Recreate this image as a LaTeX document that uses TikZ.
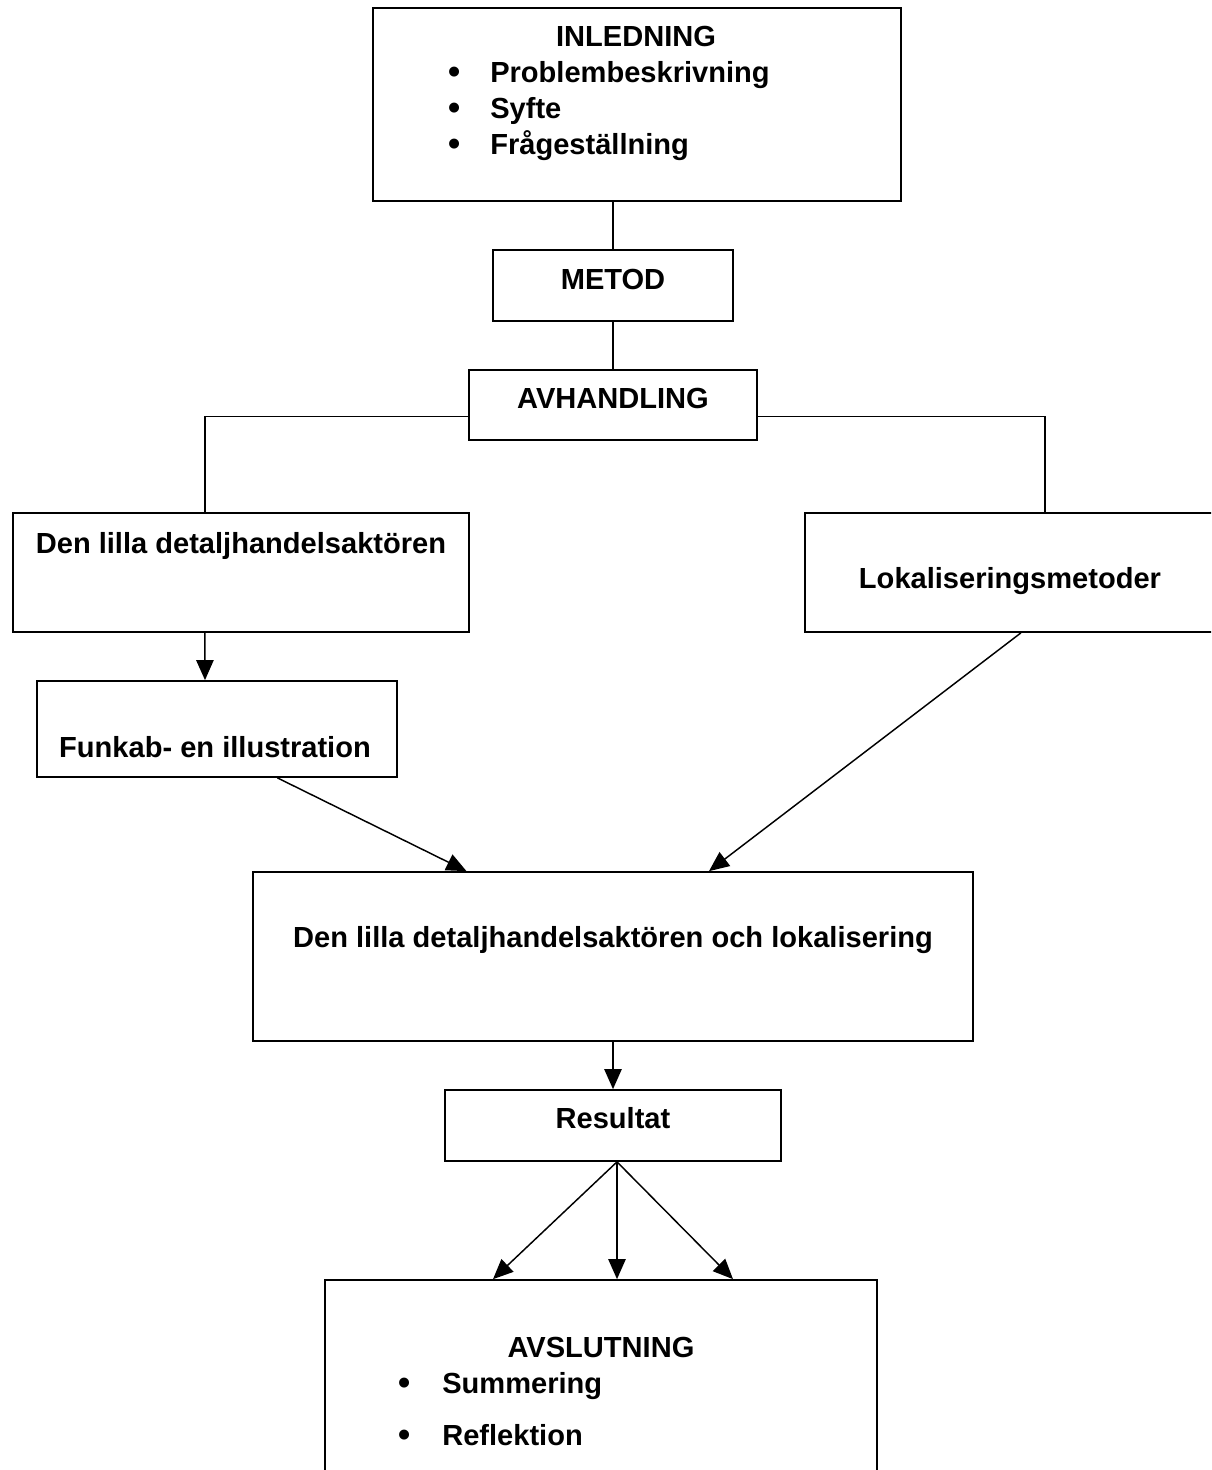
\documentclass[tikz,border=0pt]{standalone}
\usepackage{fontspec}
\setmainfont{Liberation Sans}
\usetikzlibrary{arrows.meta,calc}
\begin{document}
\begin{tikzpicture}[x=0.75pt,y=-0.75pt,
  box/.style={draw,line width=1.3pt,rectangle,inner sep=0pt},
  lbl/.style={font=\fontsize{21.8}{26}\selectfont\bfseries,inner sep=0pt,anchor=base},
  lbll/.style={lbl,anchor=base west},
  bul/.style={lbl,font=\fontsize{26}{26}\selectfont\bfseries},
  conn/.style={line width=1.1pt},
  arr/.style={conn,-{Triangle[length=15pt,width=13pt]}}]
\useasboundingbox (0,0) rectangle (1211,1470);
\clip (0,0) rectangle (1211,1470);
% boxes
\node[box,minimum width=528*0.75pt,minimum height=193*0.75pt] (inl) at (637,104.5) {};
\node[box,minimum width=240*0.75pt,minimum height=71*0.75pt] (met) at (613,285.5) {};
\node[box,minimum width=288*0.75pt,minimum height=70*0.75pt] (avh) at (613,405) {};
\node[box,minimum width=456*0.75pt,minimum height=119*0.75pt] (den) at (241,572.5) {};
\node[box,minimum width=420*0.75pt,minimum height=119*0.75pt] (lok) at (1015,572.5) {};
\node[box,minimum width=360*0.75pt,minimum height=96*0.75pt] (fun) at (217,729) {};
\node[box,minimum width=720*0.75pt,minimum height=169*0.75pt] (big) at (613,956.5) {};
\node[box,minimum width=336*0.75pt,minimum height=71*0.75pt] (res) at (613,1125.5) {};
\node[box,minimum width=552*0.75pt,minimum height=220*0.75pt] (avs) at (601,1390) {};
% texts
\node[lbl] (tInl) at (636,47) {INLEDNING};
\node[bul] (b1) at (455,84) {•};
\node[bul] (b2) at (455,119) {•};
\node[bul] (b3) at (455,155) {•};
\node[lbll] (t1) at (490,83) {Problembeskrivning};
\node[lbll] (t2) at (490,118) {Syfte};
\node[lbll] (t3) at (490,154) {Frågeställning};
\node[lbl] (tMet) at (613,289) {METOD};
\node[lbl] (tAvh) at (613,408) {AVHANDLING};
\node[lbl] (tDen) at (241,553) {Den lilla detaljhandelsaktören};
\node[lbl] (tLok) at (1010,588) {Lokaliseringsmetoder};
\node[lbl] (tFun) at (215,757) {Funkab- en illustration};
\node[lbl] (tBig) at (613,947) {Den lilla detaljhandelsaktören och lokalisering};
\node[lbl] (tRes) at (613,1128) {Resultat};
\node[lbl] (tAvs) at (601,1357) {AVSLUTNING};
\node[bul] (b4) at (405,1394) {•};
\node[bul] (b5) at (405,1446) {•};
\node[lbll] (t4) at (442,1393) {Summering};
\node[lbll] (t5) at (442,1445) {Reflektion};
% connectors
\coordinate (aw) at ($(avh.north west)!0.657!(avh.south west)$);
\coordinate (ae) at ($(avh.north east)!0.657!(avh.south east)$);
\draw[conn] (inl.south -| met.north) -- (met.north);
\draw[conn] (met.south) -- (avh.north);
\draw[conn] (aw) -| ($(den.north west)!0.421!(den.north east)$);
\draw[conn] (ae) -| ($(lok.north west)!0.571!(lok.north east)$);
\draw[arr] ($(den.south west)!0.421!(den.south east)$) -- (fun.north -| 205,0);
\draw[arr] ($(fun.south west)!0.667!(fun.south east)$) -- ($(big.north west)!0.297!(big.north east)$);
\draw[arr] ($(lok.south west)!0.514!(lok.south east)$) -- ($(big.north west)!0.633!(big.north east)$);
\draw[arr] (big.south -| res.north) -- (res.north);
\coordinate (rs) at ($(res.south)+(4,0)$);
\draw[arr] (rs) -- (avs.north -| 493,0);
\draw[arr] (rs) -- (avs.north -| rs);
\draw[arr] (rs) -- (avs.north -| 733,0);
\end{tikzpicture}
\end{document}
